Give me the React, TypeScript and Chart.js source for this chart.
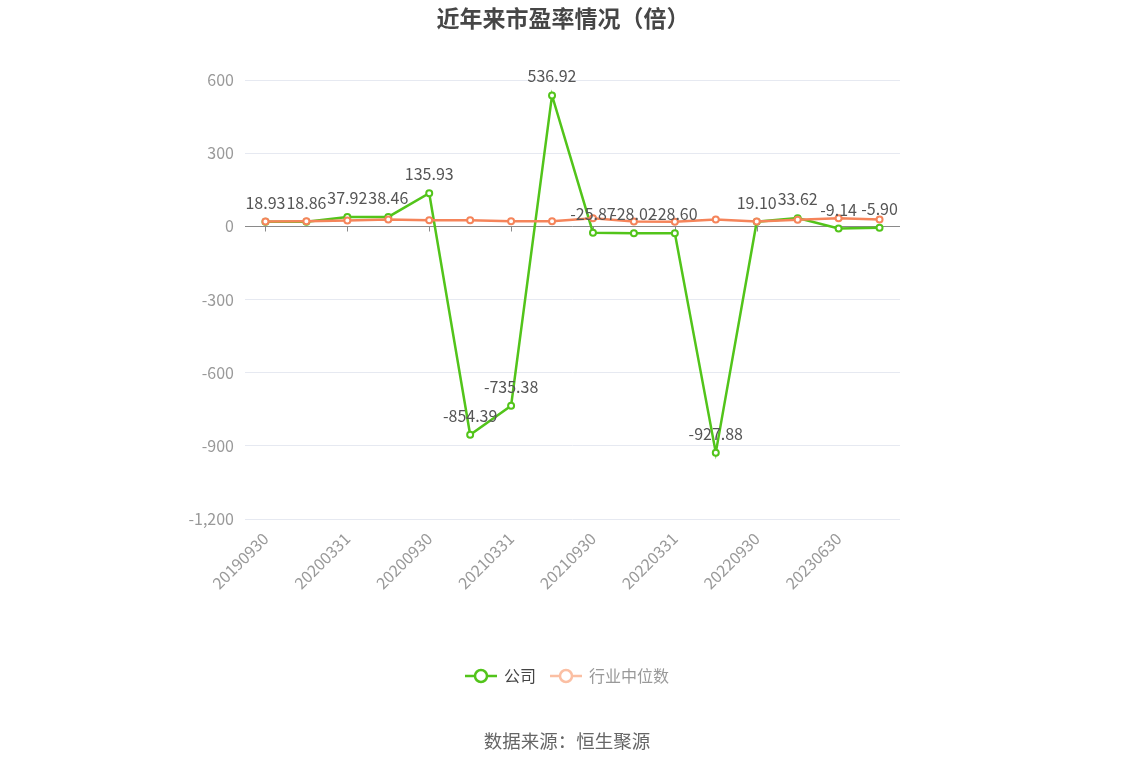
import { useEffect, useRef } from 'react'
import Chart from 'chart.js/auto'

// 报告期
const categories = [
  '20190930', '20191231', '20200331', '20200630', '20200930', '20201231',
  '20210331', '20210630', '20210930', '20211231', '20220331', '20220630',
  '20220930', '20221231', '20230630', '20230930',
]

// 公司市盈率
const companyPE = [
  18.93, 18.86, 37.92, 38.46, 135.93, -854.39, -735.38, 536.92,
  -25.87, -28.02, -28.6, -927.88, 19.1, 33.62, -9.14, -5.9,
]

// 行业中位数（估读）
const industryPE = [
  20, 21, 24, 28, 25, 25, 21, 21,
  33, 20, 19, 28, 20, 27, 33, 28,
]

const seriesNames = ['公司', '行业中位数']
const titleText = '近年来市盈率情况（倍）'
const sourceText = '数据来源：恒生聚源'

const FONT = '"Noto Sans CJK SC", "Noto Sans", sans-serif'
const GREEN = '#52c41a'
const ORANGE = '#f5845a'

const decorations = {
  id: 'decorations',
  beforeDatasetsDraw(chart: any) {
    const { ctx, chartArea, scales } = chart
    const y0 = Math.round(scales.y.getPixelForValue(0)) + 0.5
    ctx.save()
    ctx.strokeStyle = '#8a8a8a'
    ctx.lineWidth = 1
    ctx.beginPath()
    ctx.moveTo(chartArea.left, y0)
    ctx.lineTo(chartArea.right, y0)
    for (let i = 0; i < categories.length; i += 2) {
      const px = Math.round(scales.x.getPixelForValue(i)) + 0.5
      ctx.moveTo(px, y0)
      ctx.lineTo(px, y0 + 5)
    }
    ctx.stroke()
    ctx.restore()
  },
  afterDatasetsDraw(chart: any) {
    const { ctx } = chart
    const meta = chart.getDatasetMeta(0)
    ctx.save()
    ctx.font = '16px ' + FONT
    ctx.fillStyle = '#555'
    ctx.textAlign = 'center'
    ctx.textBaseline = 'bottom'
    meta.data.forEach((pt: any, i: number) => {
      ctx.fillText(companyPE[i].toFixed(2), pt.x, pt.y - 11)
    })
    ctx.restore()
  },
  afterDraw(chart: any) {
    const { ctx, width } = chart
    const cx = width / 2
    ctx.save()
    // title
    ctx.font = 'bold 23px ' + FONT
    ctx.fillStyle = '#464646'
    ctx.textAlign = 'center'
    ctx.textBaseline = 'middle'
    ctx.fillText(titleText, cx - 4, 18)

    // legend
    ctx.font = '16px ' + FONT
    const symW = 32
    const gap = 7
    const itemGap = 14
    const widths = seriesNames.map((n) => ctx.measureText(n).width)
    const total = widths.reduce((a, w) => a + symW + gap + w, 0) + itemGap
    let x = cx - total / 2
    const ly = 676
    const symColors = [GREEN, '#fbbfa3']
    const textColors = ['#444', '#999']
    seriesNames.forEach((name, i) => {
      ctx.strokeStyle = symColors[i]
      ctx.lineWidth = 2.5
      ctx.beginPath()
      ctx.moveTo(x, ly)
      ctx.lineTo(x + symW, ly)
      ctx.stroke()
      ctx.beginPath()
      ctx.arc(x + symW / 2, ly, 6, 0, Math.PI * 2)
      ctx.fillStyle = '#fff'
      ctx.fill()
      ctx.stroke()
      ctx.fillStyle = textColors[i]
      ctx.textAlign = 'left'
      ctx.fillText(name, x + symW + gap, ly)
      x += symW + gap + widths[i] + itemGap
    })

    // source
    ctx.font = '18.5px ' + FONT
    ctx.fillStyle = '#666'
    ctx.textAlign = 'center'
    ctx.fillText(sourceText, cx, 741)
    ctx.restore()
  },
}

export default function App() {
  const chartRef = useRef<HTMLCanvasElement>(null)
  const chartInstance = useRef<Chart | null>(null)

  useEffect(() => {
    if (!chartRef.current) return
    const ctx = chartRef.current.getContext('2d')
    if (!ctx) return
    if (chartInstance.current) chartInstance.current.destroy()

    chartInstance.current = new Chart(ctx, {
      type: 'line',
      data: {
        labels: categories,
        datasets: [
          {
            label: seriesNames[0],
            data: companyPE,
            borderColor: GREEN,
            backgroundColor: '#fff',
            borderWidth: 2.5,
            pointRadius: 3,
            pointBorderWidth: 2,
            pointBorderColor: GREEN,
            pointBackgroundColor: '#fff',
            tension: 0,
            order: 1,
          },
          {
            label: seriesNames[1],
            data: industryPE,
            borderColor: ORANGE,
            backgroundColor: '#fff',
            borderWidth: 2.5,
            pointRadius: 3,
            pointBorderWidth: 2,
            pointBorderColor: ORANGE,
            pointBackgroundColor: '#fff',
            tension: 0,
            order: 0,
          },
        ],
      },
      plugins: [decorations],
      options: {
        responsive: false,
        animation: false,
        layout: { padding: { top: 80, right: 234, bottom: 147, left: 0 } },
        plugins: {
          legend: { display: false },
          title: { display: false },
          tooltip: { enabled: false },
        },
        scales: {
          x: {
            offset: true,
            grid: { display: false },
            border: { display: false },
            ticks: {
              autoSkip: false,
              minRotation: 45,
              maxRotation: 45,
              padding: 2,
              color: '#999',
              font: { size: 16, family: FONT },
              callback: (_v: any, i: number) => (i % 2 === 0 ? categories[i] : ''),
            },
            afterFit: (scale: any) => {
              scale.height = 100
            },
          },
          y: {
            min: -1200,
            max: 600,
            grid: { color: '#e6e9f1', drawTicks: false },
            border: { display: false },
            ticks: {
              stepSize: 300,
              padding: 11,
              color: '#999',
              font: { size: 16, family: FONT },
            },
            afterFit: (scale: any) => {
              scale.width = 245
            },
          },
        },
      },
    })

    return () => {
      if (chartInstance.current) {
        chartInstance.current.destroy()
        chartInstance.current = null
      }
    }
  }, [])

  return (
    <div style={{ position: 'fixed', left: 0, top: 0, width: 1134, height: 766, background: '#fff' }}>
      <canvas ref={chartRef} width={1134} height={766} style={{ width: 1134, height: 766 }}></canvas>
    </div>
  )
}
